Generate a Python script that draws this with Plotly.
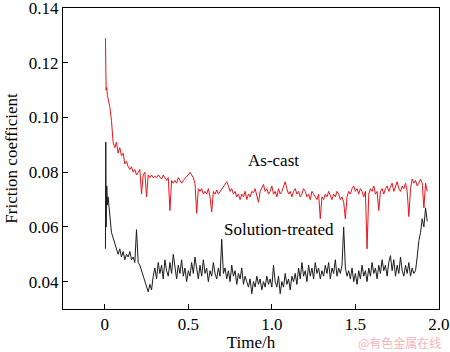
import plotly.graph_objects as go

time_h = [0.004, 0.006, 0.008, 0.012, 0.016, 0.02, 0.03, 0.04, 0.05, 0.06, 0.07, 0.08, 0.09,
          0.10, 0.11, 0.12, 0.13, 0.14, 0.15, 0.16, 0.17, 0.18, 0.19,
          0.20, 0.21, 0.22, 0.23, 0.24, 0.25, 0.26, 0.27, 0.28, 0.29,
          0.30, 0.31, 0.32, 0.33, 0.34, 0.35, 0.36, 0.37, 0.38, 0.39,
          0.40, 0.41, 0.42, 0.43, 0.44, 0.45, 0.46, 0.47, 0.48, 0.49,
          0.50, 0.51, 0.52, 0.53, 0.54, 0.55, 0.56, 0.57, 0.58, 0.59,
          0.60, 0.61, 0.62, 0.63, 0.64, 0.65, 0.66, 0.67, 0.68, 0.69,
          0.70, 0.71, 0.72, 0.73, 0.74, 0.75, 0.76, 0.77, 0.78, 0.79,
          0.80, 0.81, 0.82, 0.83, 0.84, 0.85, 0.86, 0.87, 0.88, 0.89,
          0.90, 0.91, 0.92, 0.93, 0.94, 0.95, 0.96, 0.97, 0.98, 0.99,
          1.00, 1.01, 1.02, 1.03, 1.04, 1.05, 1.06, 1.07, 1.08, 1.09,
          1.10, 1.11, 1.12, 1.13, 1.14, 1.15, 1.16, 1.17, 1.18, 1.19,
          1.20, 1.21, 1.22, 1.23, 1.24, 1.25, 1.26, 1.27, 1.28, 1.29,
          1.30, 1.31, 1.32, 1.33, 1.34, 1.35, 1.36, 1.37, 1.38, 1.39,
          1.40, 1.41, 1.42, 1.43, 1.44, 1.45, 1.46, 1.47, 1.48, 1.49,
          1.50, 1.51, 1.52, 1.53, 1.54, 1.55, 1.56, 1.57, 1.58, 1.59,
          1.60, 1.61, 1.62, 1.63, 1.64, 1.65, 1.66, 1.67, 1.68, 1.69,
          1.70, 1.71, 1.72, 1.73, 1.74, 1.75, 1.76, 1.77, 1.78, 1.79,
          1.80, 1.81, 1.82, 1.83, 1.84, 1.85, 1.86, 1.87, 1.88, 1.89,
          1.90, 1.91, 1.92, 1.93]

as_cast = [0.129, 0.124, 0.110, 0.111, 0.108, 0.107, 0.104, 0.099, 0.091, 0.089, 0.091, 0.087, 0.089,
           0.086, 0.087, 0.083, 0.084, 0.082, 0.081, 0.082, 0.080, 0.081, 0.079,
           0.080, 0.081, 0.072, 0.079, 0.080, 0.071, 0.079, 0.078, 0.079, 0.078,
           0.0785, 0.078, 0.079, 0.078, 0.0775, 0.079, 0.078, 0.077, 0.078, 0.066,
           0.077, 0.076, 0.077, 0.076, 0.078, 0.077, 0.076, 0.077, 0.078, 0.0785,
           0.079, 0.080, 0.079, 0.078, 0.076, 0.065, 0.074, 0.073, 0.074, 0.072,
           0.073, 0.072, 0.074, 0.071, 0.0655, 0.073, 0.072, 0.0735, 0.072, 0.073,
           0.074, 0.075, 0.076, 0.0765, 0.075, 0.073, 0.074, 0.072, 0.073, 0.071,
           0.072, 0.070, 0.072, 0.071, 0.073, 0.070, 0.072, 0.071, 0.073, 0.0725,
           0.074, 0.071, 0.069, 0.073, 0.074, 0.0755, 0.073, 0.074, 0.072, 0.073,
           0.075, 0.072, 0.073, 0.071, 0.074, 0.072, 0.073, 0.075, 0.0765, 0.074,
           0.072, 0.073, 0.071, 0.073, 0.074, 0.072, 0.073, 0.071, 0.072, 0.074,
           0.073, 0.071, 0.072, 0.070, 0.073, 0.072, 0.071, 0.070, 0.072, 0.063,
           0.071, 0.070, 0.072, 0.071, 0.073, 0.0715, 0.070, 0.072, 0.071, 0.073,
           0.072, 0.070, 0.071, 0.069, 0.063, 0.071, 0.073, 0.072, 0.074, 0.075,
           0.073, 0.074, 0.072, 0.074, 0.073, 0.071, 0.073, 0.052, 0.072, 0.074,
           0.073, 0.075, 0.072, 0.073, 0.066, 0.073, 0.074, 0.072, 0.074, 0.075,
           0.073, 0.0745, 0.076, 0.073, 0.075, 0.0765, 0.074, 0.073, 0.075, 0.074,
           0.076, 0.073, 0.0638, 0.074, 0.0775, 0.076, 0.077, 0.075, 0.076, 0.0775,
           0.076, 0.067, 0.076, 0.073]

solution_treated = [0.052, 0.091, 0.060, 0.075, 0.068, 0.071, 0.064, 0.058, 0.056, 0.054, 0.052, 0.050, 0.052,
                    0.049, 0.051, 0.048, 0.050, 0.049, 0.051, 0.048, 0.049, 0.047, 0.059,
                    0.047, 0.046, 0.044, 0.042, 0.040, 0.038, 0.0363, 0.039, 0.037, 0.042,
                    0.045, 0.041, 0.047, 0.043, 0.046, 0.041, 0.048, 0.044, 0.042, 0.047,
                    0.043, 0.050, 0.045, 0.041, 0.046, 0.043, 0.048, 0.042, 0.045, 0.040,
                    0.044, 0.042, 0.047, 0.043, 0.049, 0.044, 0.041, 0.046, 0.042, 0.048,
                    0.043, 0.045, 0.040, 0.044, 0.042, 0.047, 0.043, 0.041, 0.045, 0.042,
                    0.0555, 0.043, 0.045, 0.041, 0.044, 0.040, 0.046, 0.042, 0.044, 0.039,
                    0.043, 0.041, 0.045, 0.039, 0.042, 0.040, 0.038, 0.041, 0.0356, 0.040,
                    0.038, 0.042, 0.039, 0.041, 0.037, 0.040, 0.038, 0.042, 0.039, 0.041,
                    0.038, 0.046, 0.040, 0.038, 0.042, 0.0356, 0.040, 0.038, 0.043, 0.039,
                    0.041, 0.037, 0.042, 0.040, 0.043, 0.039, 0.045, 0.041, 0.047, 0.042,
                    0.044, 0.040, 0.046, 0.042, 0.045, 0.041, 0.047, 0.043, 0.045, 0.041,
                    0.044, 0.042, 0.046, 0.043, 0.047, 0.041, 0.045, 0.043, 0.048, 0.042,
                    0.045, 0.043, 0.046, 0.060, 0.045, 0.042, 0.044, 0.041, 0.045, 0.040,
                    0.043, 0.039, 0.044, 0.041, 0.046, 0.042, 0.044, 0.040, 0.045, 0.042,
                    0.047, 0.043, 0.045, 0.041, 0.046, 0.043, 0.048, 0.044, 0.046, 0.042,
                    0.047, 0.0495, 0.044, 0.048, 0.042, 0.046, 0.043, 0.049, 0.044, 0.042,
                    0.046, 0.043, 0.047, 0.042, 0.045, 0.043, 0.044, 0.049, 0.055, 0.058,
                    0.063, 0.060, 0.067, 0.062]

x_tickvals = [0, 0.5, 1.0, 1.5, 2.0]
x_ticktext = ["0", "0.5", "1.0", "1.5", "2.0"]
y_tickvals = [0.04, 0.06, 0.08, 0.10, 0.12, 0.14]
y_ticktext = ["0.04", "0.06", "0.08", "0.10", "0.12", "0.14"]

serif = "Liberation Serif"

fig = go.Figure()
fig.add_trace(go.Scatter(x=time_h, y=as_cast, mode="lines", name="As-cast",
                         line=dict(color="#e8141c", width=1)))
fig.add_trace(go.Scatter(x=time_h, y=solution_treated, mode="lines", name="Solution-treated",
                         line=dict(color="#1a1a1a", width=1)))

fig.update_layout(
    width=450, height=352,
    margin=dict(l=63, r=11, t=8, b=43),
    paper_bgcolor="white", plot_bgcolor="white",
    showlegend=False,
    font=dict(family=serif, size=16, color="black"),
    xaxis=dict(range=[-0.25, 2.0005], tickvals=x_tickvals, ticktext=x_ticktext,
               ticks="inside", ticklen=5, tickcolor="black", showgrid=False, zeroline=False,
               showline=True, linecolor="black", linewidth=1, mirror=True,
               ticklabeloverflow="allow", automargin=False,
               tickfont=dict(family=serif, size=17),
               title=dict(text="Time/h", font=dict(family=serif, size=17), standoff=4)),
    yaxis=dict(range=[0.03, 0.14005], tickvals=y_tickvals, ticktext=y_ticktext,
               ticks="inside", ticklen=5, tickcolor="black", showgrid=False, zeroline=False,
               showline=True, linecolor="black", linewidth=1, mirror=True,
               ticklabeloverflow="allow", automargin=False,
               tickfont=dict(family=serif, size=17),
               title=dict(text="Friction coefficient", font=dict(family=serif, size=17), standoff=6)),
    annotations=[
        dict(x=1.01, y=0.0842, text="As-cast", showarrow=False,
             font=dict(family=serif, size=17, color="black")),
        dict(x=1.04, y=0.0590, text="Solution-treated", showarrow=False,
             font=dict(family=serif, size=17, color="black")),
        dict(x=1.0, y=0.0, xref="paper", yref="paper", xanchor="right", yanchor="middle",
             xshift=4, yshift=-33, text="@有色金属在线", showarrow=False,
             font=dict(family="Noto Sans CJK SC", size=12, color="#f3b3bb")),
    ],
)

fig.write_html("out.html")
